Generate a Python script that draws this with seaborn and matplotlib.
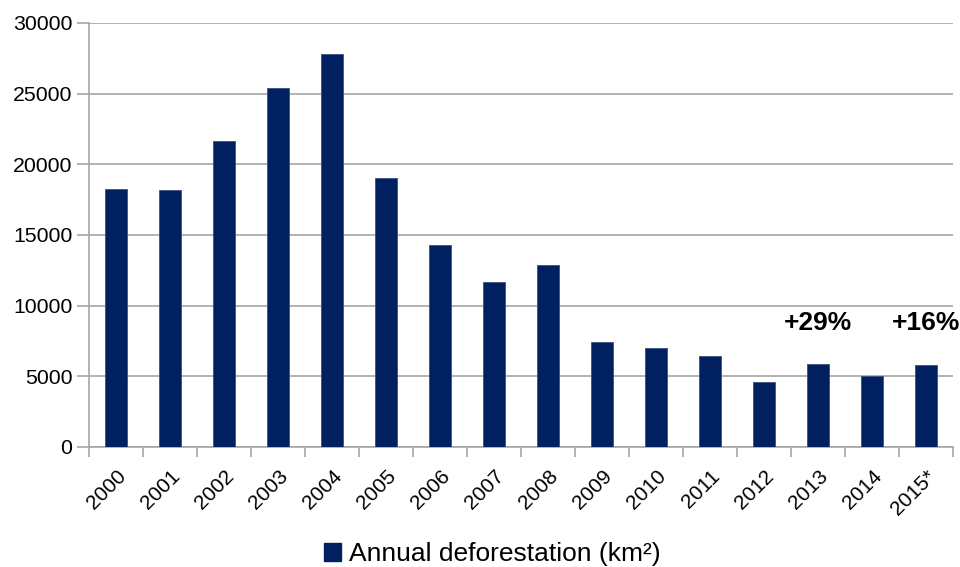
import matplotlib
matplotlib.use("Agg")
import matplotlib.pyplot as plt
import seaborn as sns
import pandas as pd
from matplotlib.patches import Patch

years = ["2000", "2001", "2002", "2003", "2004", "2005", "2006", "2007",
         "2008", "2009", "2010", "2011", "2012", "2013", "2014", "2015*"]
deforestation = [18226, 18165, 21651, 25396, 27772, 19014, 14286, 11651,
                 12911, 7464, 7000, 6418, 4571, 5891, 5012, 5831]
series_name = "Annual deforestation (km²)"

df = pd.DataFrame({"year": years, "area": deforestation})

sns.set_theme(style="white")
plt.rcParams["font.family"] = ["Liberation Sans", "DejaVu Sans"]
plt.rcParams["text.color"] = "black"

bar_color = "#002060"
grid_color = "#a6a6a6"

fig = plt.figure(figsize=(9.6, 5.67), dpi=100)
ax = fig.add_axes([89 / 960, 1 - 447 / 567, (953 - 89) / 960, (447 - 23) / 567])

sns.barplot(data=df, x="year", y="area", color=bar_color, width=0.4,
            saturation=1, edgecolor="#3a5080", linewidth=0.6, ax=ax, zorder=3)

ax.set_xlim(-0.5, len(years) - 0.5)
ax.set_ylim(0, 30000)
ax.set_yticks(range(0, 30001, 5000))
ax.yaxis.grid(True, color=grid_color, linewidth=1.2, zorder=0)
ax.set_axisbelow(True)
ax.set_xlabel("")
ax.set_ylabel("")

for side in ["top", "right"]:
    ax.spines[side].set_visible(False)
for side in ["left", "bottom"]:
    ax.spines[side].set_color(grid_color)
    ax.spines[side].set_linewidth(1.2)

# category boundaries carry the x ticks
ax.set_xticks([i - 0.5 for i in range(len(years) + 1)], minor=True)
ax.set_xticks(range(len(years)))
ax.set_xticklabels(years, rotation=45, ha="right", rotation_mode="anchor")
ax.tick_params(axis="x", which="major", length=0, labelsize=15, pad=14,
               labelcolor="black")
ax.tick_params(axis="x", which="minor", length=7, width=1.2, color=grid_color,
               direction="out", bottom=True)
ax.tick_params(axis="y", length=9, width=1.2, color=grid_color, direction="out",
               left=True, labelsize=15.3, labelcolor="black", pad=3)

# year-on-year increases
for idx in (13, 15):
    pct = (deforestation[idx] / deforestation[idx - 1] - 1) * 100
    ax.text(idx, 8750, f"+{pct:.0f}%", ha="center", va="center",
            fontsize=19, fontweight="bold", color="black")

handle = Patch(facecolor=bar_color, edgecolor=bar_color)
leg = fig.legend([handle], [series_name], loc="center",
                 bbox_to_anchor=(492 / 960, 1 - 554 / 567),
                 frameon=False, fontsize=19, handlelength=0.65, handleheight=0.65,
                 handletextpad=0.3, borderpad=0)
for t in leg.get_texts():
    t.set_color("black")

fig.savefig("out.png", dpi=100)
